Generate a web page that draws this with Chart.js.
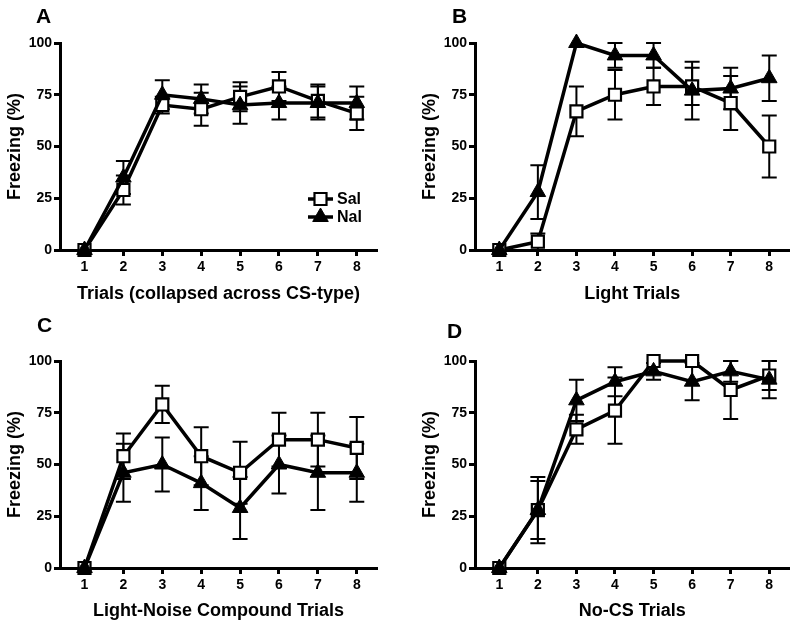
<!DOCTYPE html>
<html>
<head>
<meta charset="utf-8">
<script src="https://cdn.jsdelivr.net/npm/chart.js@4.4.1/dist/chart.umd.min.js"></script>
<style>
  html, body { margin: 0; padding: 0; background: #fff; }
  #wrap { position: relative; width: 800px; height: 627px; }
  #wrap canvas { position: absolute; }
</style>
</head>
<body>
<div id="wrap">
  <canvas id="chartA" width="400" height="310" style="left:0;top:0"></canvas>
  <canvas id="chartB" width="385" height="310" style="left:415px;top:0"></canvas>
  <canvas id="chartC" width="400" height="317" style="left:0;top:310px"></canvas>
  <canvas id="chartD" width="385" height="317" style="left:415px;top:310px"></canvas>
</div>
<script>
const trials = [1, 2, 3, 4, 5, 6, 7, 8];
const yTicks = [0, 25, 50, 75, 100];
const seriesNames = ['Sal', 'Nal'];

// A - all trials
const salA = [0, 29, 70, 68, 74, 79, 72, 66];
const salAErr = [0, 7, 4, 8, 7, 7, 8, 8];
const nalA = [0, 35, 75, 73, 70, 71, 71, 71];
const nalAErr = [0, 8, 7, 7, 9, 8, 8, 8];

// B - light
const salB = [0, 4, 67, 75, 79, 79, 71, 50];
const salBErr = [0, 4, 12, 12, 9, 9, 13, 15];
const nalB = [0, 28, 100, 94, 94, 77, 78, 83];
const nalBErr = [0, 13, 0, 6, 6, 14, 10, 11];

// C - light-noise compound
const salC = [0, 54, 79, 54, 46, 62, 62, 58];
const salCErr = [0, 11, 9, 14, 15, 13, 13, 15];
const nalC = [0, 46, 50, 41, 29, 50, 46, 46];
const nalCErr = [0, 14, 13, 13, 15, 14, 18, 14];

// D - no-CS
const salD = [0, 28, 67, 76, 100, 100, 86, 93];
const salDErr = [0, 16, 7, 16, 0, 0, 14, 7];
const nalD = [0, 28, 81, 90, 95, 90, 95, 91];
const nalDErr = [0, 14, 10, 7, 4, 9, 5, 9];

const FONT = "'Liberation Sans', Arial, Helvetica, sans-serif";
Chart.defaults.font.family = FONT;
Chart.defaults.color = '#000';

const errorBars = {
  id: 'errorBars',
  beforeDatasetsDraw(chart) {
    const ctx = chart.ctx;
    const xs = chart.scales.x, ys = chart.scales.y;
    chart.data.datasets.forEach(ds => {
      if (!ds.errors) return;
      ctx.save();
      ctx.strokeStyle = '#000';
      ctx.lineWidth = 2;
      ds.data.forEach((pt, j) => {
        const e = ds.errors[j];
        if (!e) return;
        const px = xs.getPixelForValue(pt.x);
        const top = ys.getPixelForValue(pt.y + e);
        const bot = ys.getPixelForValue(pt.y - e);
        ctx.beginPath();
        ctx.moveTo(px, top); ctx.lineTo(px, bot);
        ctx.moveTo(px - 7.5, top); ctx.lineTo(px + 7.5, top);
        ctx.moveTo(px - 7.5, bot); ctx.lineTo(px + 7.5, bot);
        ctx.stroke();
      });
      ctx.restore();
    });
  }
};

const panelLetter = {
  id: 'panelLetter',
  afterDraw(chart, args, opts) {
    const ctx = chart.ctx;
    ctx.save();
    ctx.font = 'bold 21px ' + FONT;
    ctx.fillStyle = '#000';
    ctx.textBaseline = 'alphabetic';
    ctx.fillText(opts.text, opts.x, opts.y);
    ctx.restore();
  }
};

const innerLegend = {
  id: 'innerLegend',
  afterDraw(chart, args, opts) {
    if (!opts.show) return;
    const ctx = chart.ctx;
    const area = chart.chartArea;
    ctx.save();
    chart.data.datasets.forEach((ds, i) => {
      const y = area.bottom - 51 + i * 18;
      const x0 = area.right - 69, x1 = area.right - 44;
      ctx.strokeStyle = '#000';
      ctx.lineWidth = ds.borderWidth;
      ctx.beginPath(); ctx.moveTo(x0, y); ctx.lineTo(x1, y); ctx.stroke();
      ctx.fillStyle = ds.pointBackgroundColor;
      ctx.strokeStyle = ds.pointBorderColor;
      ctx.lineWidth = ds.pointBorderWidth;
      Chart.helpers.drawPoint(ctx, {
        pointStyle: ds.pointStyle, rotation: 0,
        radius: ds.pointRadius, borderWidth: ds.pointBorderWidth
      }, (x0 + x1) / 2, y);
      ctx.fillStyle = '#000';
      ctx.font = 'bold 16px ' + FONT;
      ctx.textBaseline = 'middle';
      ctx.fillText(ds.label, area.right - 40, y + 1);
    });
    ctx.restore();
  }
};

function toPoints(vals) {
  return trials.map((t, i) => ({x: t, y: vals[i]}));
}

function makePanel(id, letter, letterX, letterY, xTitle, sal, salErr, nal, nalErr, pad, xHeight, legend) {
  const tickFont = {size: 14, weight: 'bold'};
  const titleFont = {size: 18, weight: 'bold'};
  return new Chart(document.getElementById(id), {
    type: 'line',
    data: {
      datasets: [
        {
          label: seriesNames[0], data: toPoints(sal), errors: salErr, order: 1,
          borderColor: '#000', borderWidth: 3.5, tension: 0, clip: false,
          pointStyle: 'rect', pointRadius: 8.5, pointBackgroundColor: '#fff',
          pointBorderColor: '#000', pointBorderWidth: 2.2
        },
        {
          label: seriesNames[1], data: toPoints(nal), errors: nalErr, order: 0,
          borderColor: '#000', borderWidth: 3.5, tension: 0, clip: false,
          pointStyle: 'triangle', pointRadius: 9, pointBackgroundColor: '#000',
          pointBorderColor: '#000', pointBorderWidth: 1
        }
      ]
    },
    options: {
      responsive: false,
      animation: false,
      layout: {padding: pad},
      plugins: {
        legend: {display: false},
        tooltip: {enabled: false},
        panelLetter: {text: letter, x: letterX, y: letterY},
        innerLegend: {show: legend}
      },
      scales: {
        x: {
          type: 'linear', min: 0.37, max: 8.52,
          afterBuildTicks: s => { s.ticks = trials.map(v => ({value: v})); },
          afterFit: s => { s.height = xHeight; },
          grid: {drawOnChartArea: false, tickLength: 6, tickWidth: 3, tickColor: '#000'},
          border: {color: '#000', width: 3},
          ticks: {color: '#000', font: tickFont, padding: 3, maxRotation: 0, autoSkip: false},
          title: {display: true, text: xTitle, color: '#000', font: titleFont, padding: {top: 0, bottom: 5}}
        },
        y: {
          min: 0, max: 100,
          afterBuildTicks: s => { s.ticks = yTicks.map(v => ({value: v})); },
          afterFit: s => { s.width = 60; },
          grid: {drawOnChartArea: false, tickLength: 6, tickWidth: 3, tickColor: '#000'},
          border: {color: '#000', width: 3},
          ticks: {color: '#000', font: tickFont, padding: 2},
          title: {display: true, text: 'Freezing (%)', color: '#000', font: titleFont, padding: {top: 4, bottom: 0}}
        }
      }
    },
    plugins: [errorBars, panelLetter, innerLegend]
  });
}

makePanel('chartA', 'A', 36, 23, 'Trials (collapsed across CS-type)', salA, salAErr, nalA, nalAErr,
  {top: 43, right: 23, bottom: 0, left: 0}, 60, true);
makePanel('chartB', 'B', 37, 23, 'Light Trials', salB, salBErr, nalB, nalBErr,
  {top: 43, right: 10, bottom: 0, left: 0}, 60, false);
makePanel('chartC', 'C', 37, 22, 'Light-Noise Compound Trials', salC, salCErr, nalC, nalCErr,
  {top: 51, right: 23, bottom: 0, left: 0}, 59, false);
makePanel('chartD', 'D', 32, 28, 'No-CS Trials', salD, salDErr, nalD, nalDErr,
  {top: 51, right: 10, bottom: 0, left: 0}, 59, false);
</script>
</body>
</html>
